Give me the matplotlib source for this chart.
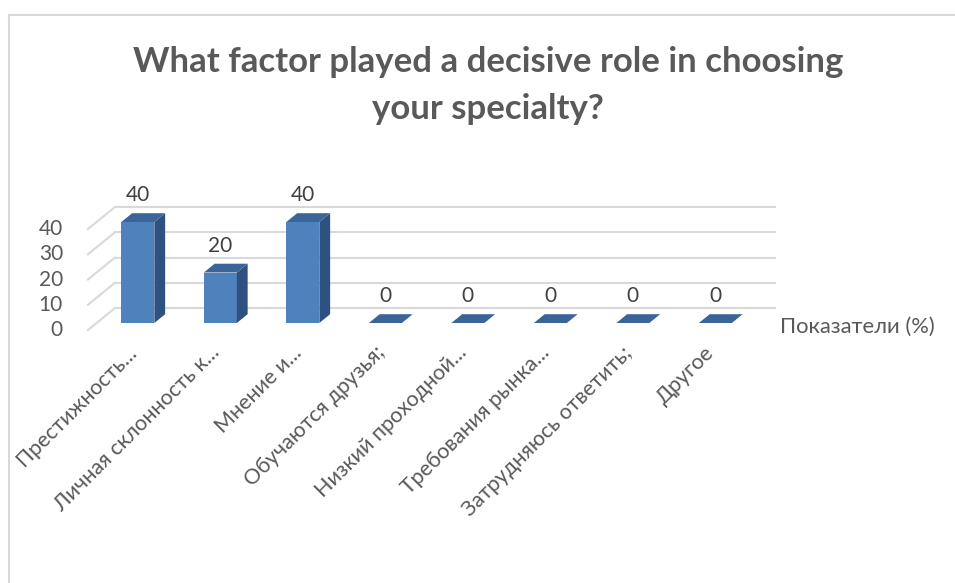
import matplotlib.pyplot as plt
from matplotlib.patches import Polygon
from matplotlib.lines import Line2D

# Chart data
categories = ["Престижность...", "Личная склонность к...", "Мнение и...",
              "Обучаются друзья;", "Низкий проходной...", "Требования рынка...",
              "Затрудняюсь ответить;", "Другое"]
values = [40, 20, 40, 0, 0, 0, 0, 0]
yticks = [0, 10, 20, 30, 40]
series_name = "Показатели (%)"
title_lines = ["What factor played a decisive role in choosing", "your specialty?"]

plt.rcParams['font.family'] = ['Lato', 'DejaVu Sans']

FW, FH = 955, 583
fig = plt.figure(figsize=(FW / 100, FH / 100), dpi=100)

# bar plane of the fake 3D box (pixels from top-left)
left_px, right_px = 96.6, 756.6
base_px, top_px = 323, 222
ax = fig.add_axes([left_px / FW, 1 - base_px / FH, (right_px - left_px) / FW, (base_px - top_px) / FH])
ax.set_xlim(-0.5, len(categories) - 0.5)
ax.set_ylim(0, 40)
ax.axis("off")

# depth of the box in data units
px_x = (right_px - left_px) / len(categories)
px_y = (base_px - top_px) / 40
ddx, ddy = 27 / px_x, 22 / px_y
t0 = 0.32      # bar front position inside the depth
tb = 0.40      # bar depth
bdx, bdy = tb * ddx, tb * ddy

grid_c = "#d9d9d9"
x0, x1 = -0.5, len(categories) - 0.5
for v in yticks:
    # back wall
    ax.add_line(Line2D([x0 + (1 - t0) * ddx, x1 + (1 - t0) * ddx],
                       [v + (1 - t0) * ddy] * 2, color=grid_c, lw=1.5, clip_on=False, zorder=1))
    # side wall
    ax.add_line(Line2D([x0 - t0 * ddx, x0 + (1 - t0) * ddx],
                       [v - t0 * ddy, v + (1 - t0) * ddy], color=grid_c, lw=1.5, clip_on=False, zorder=1))
    ax.annotate(str(v), (x0 - t0 * ddx, v - t0 * ddy), xytext=(-18, 0), textcoords="offset points",
                ha="right", va="center", fontsize=15, color="#595959", annotation_clip=False)

w = 0.4
front_c, side_c, top_c = "#4f81bd", "#2f5180", "#3a6598"
for i, v in enumerate(values):
    ax.bar(i, v, width=w, color=front_c, zorder=3, clip_on=False)
    side = [(i + w / 2, 0), (i + w / 2 + bdx, bdy), (i + w / 2 + bdx, v + bdy), (i + w / 2, v)]
    top = [(i - w / 2, v), (i + w / 2, v), (i + w / 2 + bdx, v + bdy), (i - w / 2 + bdx, v + bdy)]
    ax.add_patch(Polygon(side, closed=True, facecolor=side_c, edgecolor="none", zorder=3, clip_on=False))
    ax.add_patch(Polygon(top, closed=True, facecolor=top_c, edgecolor="none", zorder=3, clip_on=False))
    ax.annotate(str(v), (i, v + bdy), xytext=(0, 13), textcoords="offset points",
                ha="center", va="center", fontsize=15, color="#404040", annotation_clip=False)
    ax.annotate(categories[i], (i, 0), xytext=(-8, -14), textcoords="offset points",
                ha="right", va="top", rotation=45, rotation_mode="anchor",
                fontsize=15.5, color="#595959", annotation_clip=False)

fig.text(780 / FW, 1 - 327 / FH, series_name, ha="left", va="center", fontsize=15.8, color="#595959")
for k, line in enumerate(title_lines):
    fig.text(488 / FW, 1 - (72 + 47 * k) / FH, line, ha="center", va="baseline", fontsize=25,
             fontweight="bold", color="#595959")

# chart border (cropped at right and bottom)
fig.add_artist(Line2D([9 / FW, 9 / FW], [0, 1 - 15 / FH], color=grid_c, lw=1.5))
fig.add_artist(Line2D([9 / FW, 1], [1 - 15 / FH, 1 - 15 / FH], color=grid_c, lw=1.5))

fig.savefig("out.png", dpi=100)
